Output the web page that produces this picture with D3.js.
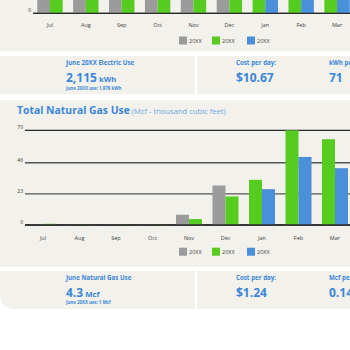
<!DOCTYPE html>
<html>
<head>
<meta charset="utf-8">
<script src="https://cdn.jsdelivr.net/npm/d3@7"></script>
<style>
  body { margin: 0; background: #fff; }
  svg { display: block; font-family: "Open Sans", sans-serif; }
</style>
</head>
<body>
<svg class="usage"></svg>
<script>
const svgWidth = 350;
const svgHeight = 350;

// data
const months = ["Jul", "Aug", "Sep", "Oct", "Nov", "Dec", "Jan", "Feb", "Mar"];
const seriesNames = ["20XX", "20XX", "20XX"];
// electric bars are mostly cut off at the top of the picture
const elecGray  = [2250, 2300, 2050, 1700, 1650, 2000, null, null, null];
const elecGreen = [2300, 2350, 2100, 1750, 1700, 2050, 2150, 1950, 1900];
const elecBlue  = [null, null, null, null, null, null, 2000, 1850, 1800];
const gasGray  = [0.3, 0.3, 0.3, 0.3, 7.6, 29.2, null, null, null];
const gasGreen = [0.9, 0.3, 0.3, 0.3, 4.4, 21.1, 33.4, 70, 63.4];
const gasBlue  = [null, null, null, null, null, null, 26.5, 50.3, 42];
const gasTicks = [0, 23, 46, 70];
const elecTicks = [0];

const colours = ["#9b9b9b", "#55cc1f", "#4a8fd9"];
const panel = "#f2f1eb";
const blue = "#3b86d8";

const svg = d3.select(".usage")
  .attr("width", svgWidth)
  .attr("height", svgHeight);

// background panels
function roundedBL(x, y, w, h, r) {
  return `M${x},${y}H${x + w}V${y + h}H${x + r}Q${x},${y + h} ${x},${y + h - r}Z`;
}
svg.append("rect").attr("x", 0).attr("y", -50).attr("width", 350).attr("height", 101.6).attr("fill", panel);
svg.append("rect").attr("x", 0).attr("y", 56).attr("width", 195).attr("height", 38.3).attr("fill", panel);
svg.append("rect").attr("x", 197).attr("y", 56).attr("width", 160).attr("height", 38.3).attr("fill", panel);
svg.append("rect").attr("x", 0).attr("y", 100).attr("width", 350).attr("height", 167).attr("fill", panel);
svg.append("path").attr("d", roundedBL(0, 271, 195, 38, 16)).attr("fill", panel);
svg.append("rect").attr("x", 197).attr("y", 271).attr("width", 160).attr("height", 38).attr("fill", panel);

// bars: each month shows two bars, the series that have a value
function drawChart(g, opts) {
  var x = d3.scaleBand().domain(months).range(opts.xRange).padding(0);
  var y = d3.scaleLinear().domain(opts.yDomain).range(opts.yRange);
  var series = [opts.gray, opts.green, opts.blue];

  // grid lines
  g.selectAll(".grid").data(opts.ticks).join("line")
    .attr("x1", opts.gridX).attr("x2", svgWidth)
    .attr("y1", d => y(d)).attr("y2", d => y(d))
    .attr("stroke", (d, i) => d === 0 || i === opts.ticks.length - 1 ? "#2b2b2b" : "#555")
    .attr("stroke-width", 1.3);
  g.selectAll(".tick-label").data(opts.ticks).join("text")
    .attr("x", opts.gridX - 2).attr("y", d => y(d) - 1)
    .attr("text-anchor", "end")
    .attr("font-size", 5)
    .attr("fill", "#333")
    .text(d => d);

  var bars = [];
  months.forEach(function(m, i) {
    var present = [];
    series.forEach(function(s, k) { if (s[i] != null) present.push({ k: k, v: s[i] }); });
    present.forEach(function(p, j) {
      bars.push({ month: m, slot: j, k: p.k, v: p.v });
    });
  });
  var bw = opts.barWidth;
  g.selectAll(".bar").data(bars).join("rect")
    .attr("x", d => x(d.month) + x.bandwidth() / 2 - bw + d.slot * bw)
    .attr("width", bw)
    .attr("y", d => y(d.v))
    .attr("height", d => y(0) - y(d.v))
    .attr("fill", d => colours[d.k]);
  // baseline on top of bars
  g.append("line")
    .attr("x1", opts.gridX).attr("x2", svgWidth)
    .attr("y1", y(0)).attr("y2", y(0))
    .attr("stroke", "#2b2b2b").attr("stroke-width", 1.3);

  // month labels
  g.selectAll(".month").data(months).join("text")
    .attr("x", d => x(d) + x.bandwidth() / 2)
    .attr("y", opts.labelY)
    .attr("text-anchor", "middle")
    .attr("font-size", 5.5)
    .attr("fill", "#444")
    .text(d => d);

  // legend
  var legendX = [179, 212, 247];
  var legend = g.selectAll(".legend").data(seriesNames).join("g")
    .attr("transform", (d, i) => `translate(${legendX[i]},${opts.legendY})`);
  legend.append("rect")
    .attr("x", 0).attr("y", -4).attr("width", 8).attr("height", 8)
    .attr("fill", (d, i) => colours[i]);
  legend.append("text")
    .attr("x", 10).attr("y", 2)
    .attr("font-size", 5.5)
    .attr("fill", "#444")
    .text(d => d);
}

drawChart(svg.append("g"), {
  gray: elecGray, green: elecGreen, blue: elecBlue,
  ticks: elecTicks,
  xRange: [32, 355], yDomain: [0, 3000], yRange: [13.3, -250],
  gridX: 33, barWidth: 12.7, labelY: 27, legendY: 40.5
});

drawChart(svg.append("g"), {
  gray: gasGray, green: gasGreen, blue: gasBlue,
  ticks: gasTicks,
  xRange: [24.75, 353.25], yDomain: [0, 70], yRange: [225, 130.3],
  gridX: 25, barWidth: 13, labelY: 240, legendY: 251.7
});

// gas title
var title = svg.append("text").attr("x", 17).attr("y", 114.3).attr("fill", blue);
title.append("tspan").attr("font-size", 10.4).attr("font-weight", "bold").text("Total Natural Gas Use");
title.append("tspan").attr("font-size", 7.6).attr("fill", "#6ea6e2").text(" (Mcf - thousand cubic feet)");

// info panels
function infoPanel(top, label, big, unit, note, cost, perLabel, per) {
  var g = svg.append("g").attr("fill", blue).attr("font-weight", "bold");
  g.append("text").attr("x", 66).attr("y", top + 9).attr("font-size", 6.2).text(label);
  var t = g.append("text").attr("x", 66).attr("y", top + 26).attr("font-size", 12);
  t.append("tspan").text(big);
  t.append("tspan").attr("font-size", 7.8).text(" " + unit);
  g.append("text").attr("x", 66).attr("y", top + 33.5).attr("font-size", 4.4).text(note);
  g.append("text").attr("x", 236).attr("y", top + 9).attr("font-size", 6.2).text("Cost per day:");
  g.append("text").attr("x", 236).attr("y", top + 26).attr("font-size", 12).text(cost);
  g.append("text").attr("x", 329).attr("y", top + 9).attr("font-size", 6.2).text(perLabel);
  g.append("text").attr("x", 329).attr("y", top + 26).attr("font-size", 12).text(per);
}
infoPanel(56, "June 20XX Electric Use", "2,115", "kWh", "June 20XX use: 1,978 kWh", "$10.67", "kWh per day:", "71");
infoPanel(270.5, "June Natural Gas Use", "4.3", "Mcf", "June 20XX use: 1 Mcf", "$1.24", "Mcf per day:", "0.14");
</script>
</body>
</html>
